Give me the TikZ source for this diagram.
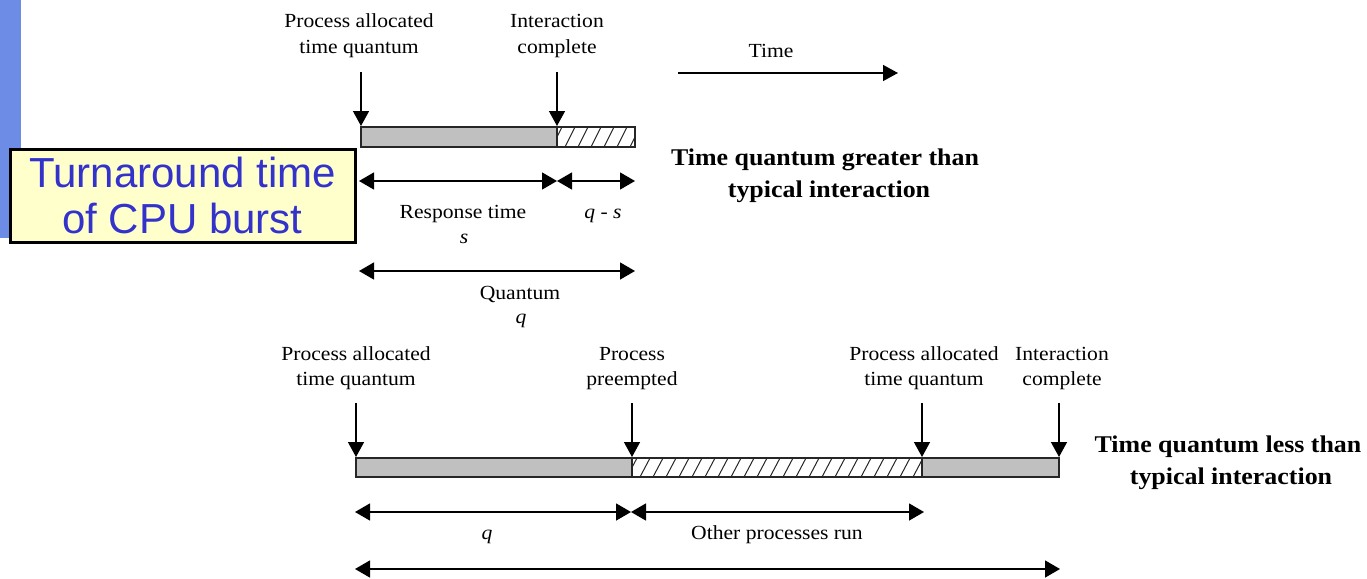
\documentclass[tikz,border=0pt]{standalone}
\usepackage{fontspec}
\setmainfont{Liberation Serif}
\newfontfamily\boxfont{Liberation Sans}
\newfontfamily\labfont[FakeStretch=1.08]{Liberation Serif}
\usetikzlibrary{arrows.meta}
\definecolor{stripblue}{RGB}{108,140,230}
\definecolor{boxyellow}{RGB}{255,255,204}
\definecolor{boxtext}{RGB}{51,51,204}
\definecolor{busygray}{RGB}{192,192,192}
\begin{document}
\begin{tikzpicture}[x=1pt,y=-1pt,
  lab/.style={font=\labfont\fontsize{20}{25}\selectfont, inner sep=0pt, anchor=base},
  itlab/.style={font=\labfont\itshape\fontsize{20}{25}\selectfont, inner sep=0pt, anchor=base},
  boldlab/.style={font=\labfont\bfseries\fontsize{24}{30}\selectfont, inner sep=0pt, anchor=base},
  ptr/.style={line width=1.4pt, -{Triangle[length=15pt,width=16pt]}},
  dim/.style={line width=1.4pt, {Triangle[length=15pt,width=17pt]}-{Triangle[length=15pt,width=17pt]}},
  busy/.style={draw=black!85, line width=1.4pt, fill=busygray},
  idle/.style={draw=black!85, line width=1.4pt},
  hatch/.style={line width=1pt, black!85},
  callout/.style={draw=black, line width=3pt, fill=boxyellow, text=boxtext,
    font=\boxfont\fontsize{42}{46}\selectfont, align=center, inner sep=0pt,
    minimum width=345pt, minimum height=93pt}
]
\useasboundingbox (0,0) rectangle (1367,578);
% left blue strip
\fill[stripblue] (0,0) rectangle (21,238);
\node[callout] (tat) at (182.5,195.5) {Turnaround time\\of CPU burst};

% ===== top diagram =====
\node[lab] (pa1) at (359,28) {Process allocated};
\node[lab] (pa1b) at (359,53) {time quantum};
\node[lab] (ic1) at (557,28) {Interaction};
\node[lab] (ic1b) at (557,53) {complete};
\coordinate (a1s) at (361,72);  \coordinate (a1e) at (361,126);
\coordinate (a2s) at (557,72);  \coordinate (a2e) at (557,126);
\draw[ptr] (a1s) -- (a1e);
\draw[ptr] (a2s) -- (a2e);
% bar
\begin{scope}
  \clip (557,127) rectangle (635,147);
  \foreach \x in {552,565,...,640} \draw[hatch] (\x,147) -- (\x+10,127);
\end{scope}
\draw[busy] (361,127) rectangle (557,147);
\draw[idle] (557,127) rectangle (635,147);
% time arrow
\node[lab] (time) at (771,57) {Time};
\coordinate (ts) at (678,73); \coordinate (te) at (898,73);
\draw[ptr] (ts) -- (te);
% caption
\node[boldlab] (cap1a) at (825,165) {Time quantum greater than};
\node[boldlab] (cap1b) at (829,197) {typical interaction};
% dimensions
\coordinate (d1l) at (359,181); \coordinate (d1m) at (557,181); \coordinate (d1r) at (635,181);
\draw[dim] (d1l) -- (d1m);
\draw[dim] (d1m) -- (d1r);
\node[lab] (resp) at (463,218) {Response time};
\node[itlab] (s) at (464,243) {s};
\node[itlab] (qs) at (603,218) {q - s};
\coordinate (d2l) at (359,271); \coordinate (d2r) at (635,271);
\draw[dim] (d2l) -- (d2r);
\node[lab] (quant) at (520,299) {Quantum};
\node[itlab] (q1) at (521,323) {q};

% ===== bottom diagram =====
\node[lab] (pa2) at (356,360) {Process allocated};
\node[lab] (pa2b) at (356,385) {time quantum};
\node[lab] (pp) at (632,360) {Process};
\node[lab] (ppb) at (632,385) {preempted};
\node[lab] (pa3) at (924,360) {Process allocated};
\node[lab] (pa3b) at (924,385) {time quantum};
\node[lab] (ic2) at (1062,360) {Interaction};
\node[lab] (ic2b) at (1062,385) {complete};
\coordinate (b1s) at (356,403);  \coordinate (b1e) at (356,457);
\coordinate (b2s) at (632,403);  \coordinate (b2e) at (632,457);
\coordinate (b3s) at (922,403);  \coordinate (b3e) at (922,457);
\coordinate (b4s) at (1059,403); \coordinate (b4e) at (1059,457);
\draw[ptr] (b1s) -- (b1e);
\draw[ptr] (b2s) -- (b2e);
\draw[ptr] (b3s) -- (b3e);
\draw[ptr] (b4s) -- (b4e);
\begin{scope}
  \clip (632,458) rectangle (922,477);
  \foreach \x in {627,640,...,930} \draw[hatch] (\x,477) -- (\x+10,458);
\end{scope}
\draw[busy] (356,458) rectangle (632,477);
\draw[idle] (632,458) rectangle (922,477);
\draw[busy] (922,458) rectangle (1059,477);
\node[boldlab] (cap2a) at (1228,452) {Time quantum less than};
\node[boldlab] (cap2b) at (1231,484) {typical interaction};
\coordinate (e1l) at (355,512); \coordinate (e1m) at (631,512); \coordinate (e1r) at (924,512);
\draw[dim] (e1l) -- (e1m);
\draw[dim] (e1m) -- (e1r);
\node[itlab] (q2) at (487,539) {q};
\node[lab] (other) at (777,539) {Other processes run};
\coordinate (e2l) at (355,569); \coordinate (e2r) at (1060,569);
\draw[dim] (e2l) -- (e2r);
\end{tikzpicture}
\end{document}
